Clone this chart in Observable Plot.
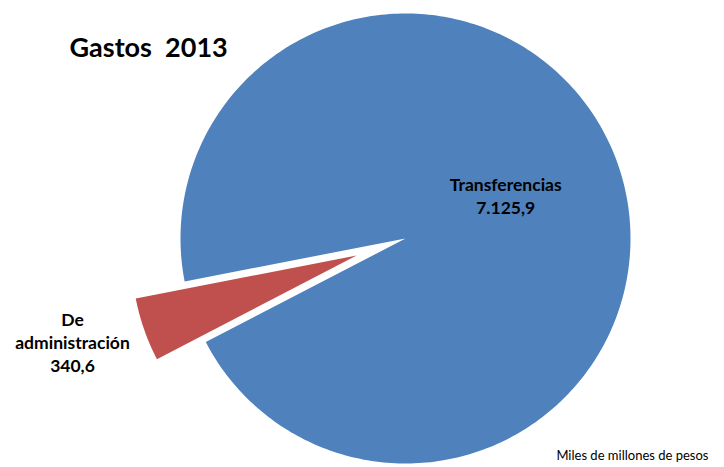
<!DOCTYPE html>
<html>
<head>
<meta charset="utf-8">
<script src="https://cdn.jsdelivr.net/npm/d3@7"></script>
<script src="https://cdn.jsdelivr.net/npm/@observablehq/plot@0.6"></script>
<style>
  html, body { margin: 0; padding: 0; background: #fff; }
</style>
</head>
<body>
<div id="chart"></div>
<script>
// ---- data ----
const categories = ["Transferencias", "De administración"];
const values = [7125.9, 340.6];
const valueLabels = ["7.125,9", "340,6"];
const labelLines = [["Transferencias"], ["De", "administración"]];
const sliceColors = ["#4F81BD", "#C0504D"];
const explode = [0, 0.23];
const title = "Gastos  2013";
const caption = "Miles de millones de pesos";

// ---- layout ----
const W = 724, H = 467;
const cx = 405, cy = 238, R = 225;
const rotation = 259 * Math.PI / 180;

const arcs = d3.pie().sort(null).startAngle(rotation).endAngle(rotation + 2 * Math.PI)(values);

const pt = (ox, oy, r, a) => [ox + r * Math.sin(a), oy - r * Math.cos(a)];

const polys = [];
const labels = [];
arcs.forEach((a, i) => {
  const mid = (a.startAngle + a.endAngle) / 2;
  const [ox, oy] = pt(cx, cy, explode[i] * R, mid);
  polys.push({slice: categories[i], color: sliceColors[i], x: ox, y: oy});
  const n = Math.max(2, Math.ceil((a.endAngle - a.startAngle) * 180 / Math.PI));
  for (let k = 0; k <= n; k++) {
    const ang = a.startAngle + (a.endAngle - a.startAngle) * k / n;
    const [x, y] = pt(ox, oy, R, ang);
    polys.push({slice: categories[i], color: sliceColors[i], x, y});
  }
  polys.push({slice: categories[i], color: sliceColors[i], x: ox, y: oy});
  const inside = i === 0;
  const lr = inside ? 0.485 * R : 1.32 * R;
  const [lx, ly] = pt(ox, oy, lr, inside ? mid - 0.072 : mid + 0.04);
  labels.push({text: [...labelLines[i], valueLabels[i]].join("\n"), x: lx, y: ly});
});

const font = "Lato, 'Open Sans', 'DejaVu Sans', sans-serif";

const chart = Plot.plot({
  width: W,
  height: H,
  margin: 0,
  x: {domain: [0, W], range: [0, W], axis: null},
  y: {domain: [0, H], range: [0, H], axis: null},
  style: {fontFamily: font, background: "#fff"},
  marks: [
    Plot.line(polys, {x: "x", y: "y", z: "slice", fill: "color", stroke: "none", curve: "linear"}),
    Plot.text(labels, {x: "x", y: "y", text: "text", fontSize: 17.5, fontWeight: "bold", fill: "#000", lineHeight: 1.3, textAnchor: "middle"}),
    Plot.text([title], {frameAnchor: "top-left", dx: 69, dy: 37, fontSize: 27, fontWeight: "bold", fill: "#000", textAnchor: "start"}),
    Plot.text([caption], {frameAnchor: "bottom-right", dx: -16, dy: -8, fontSize: 13, fill: "#000", textAnchor: "end"})
  ]
});
document.getElementById("chart").appendChild(chart);
</script>
</body>
</html>
